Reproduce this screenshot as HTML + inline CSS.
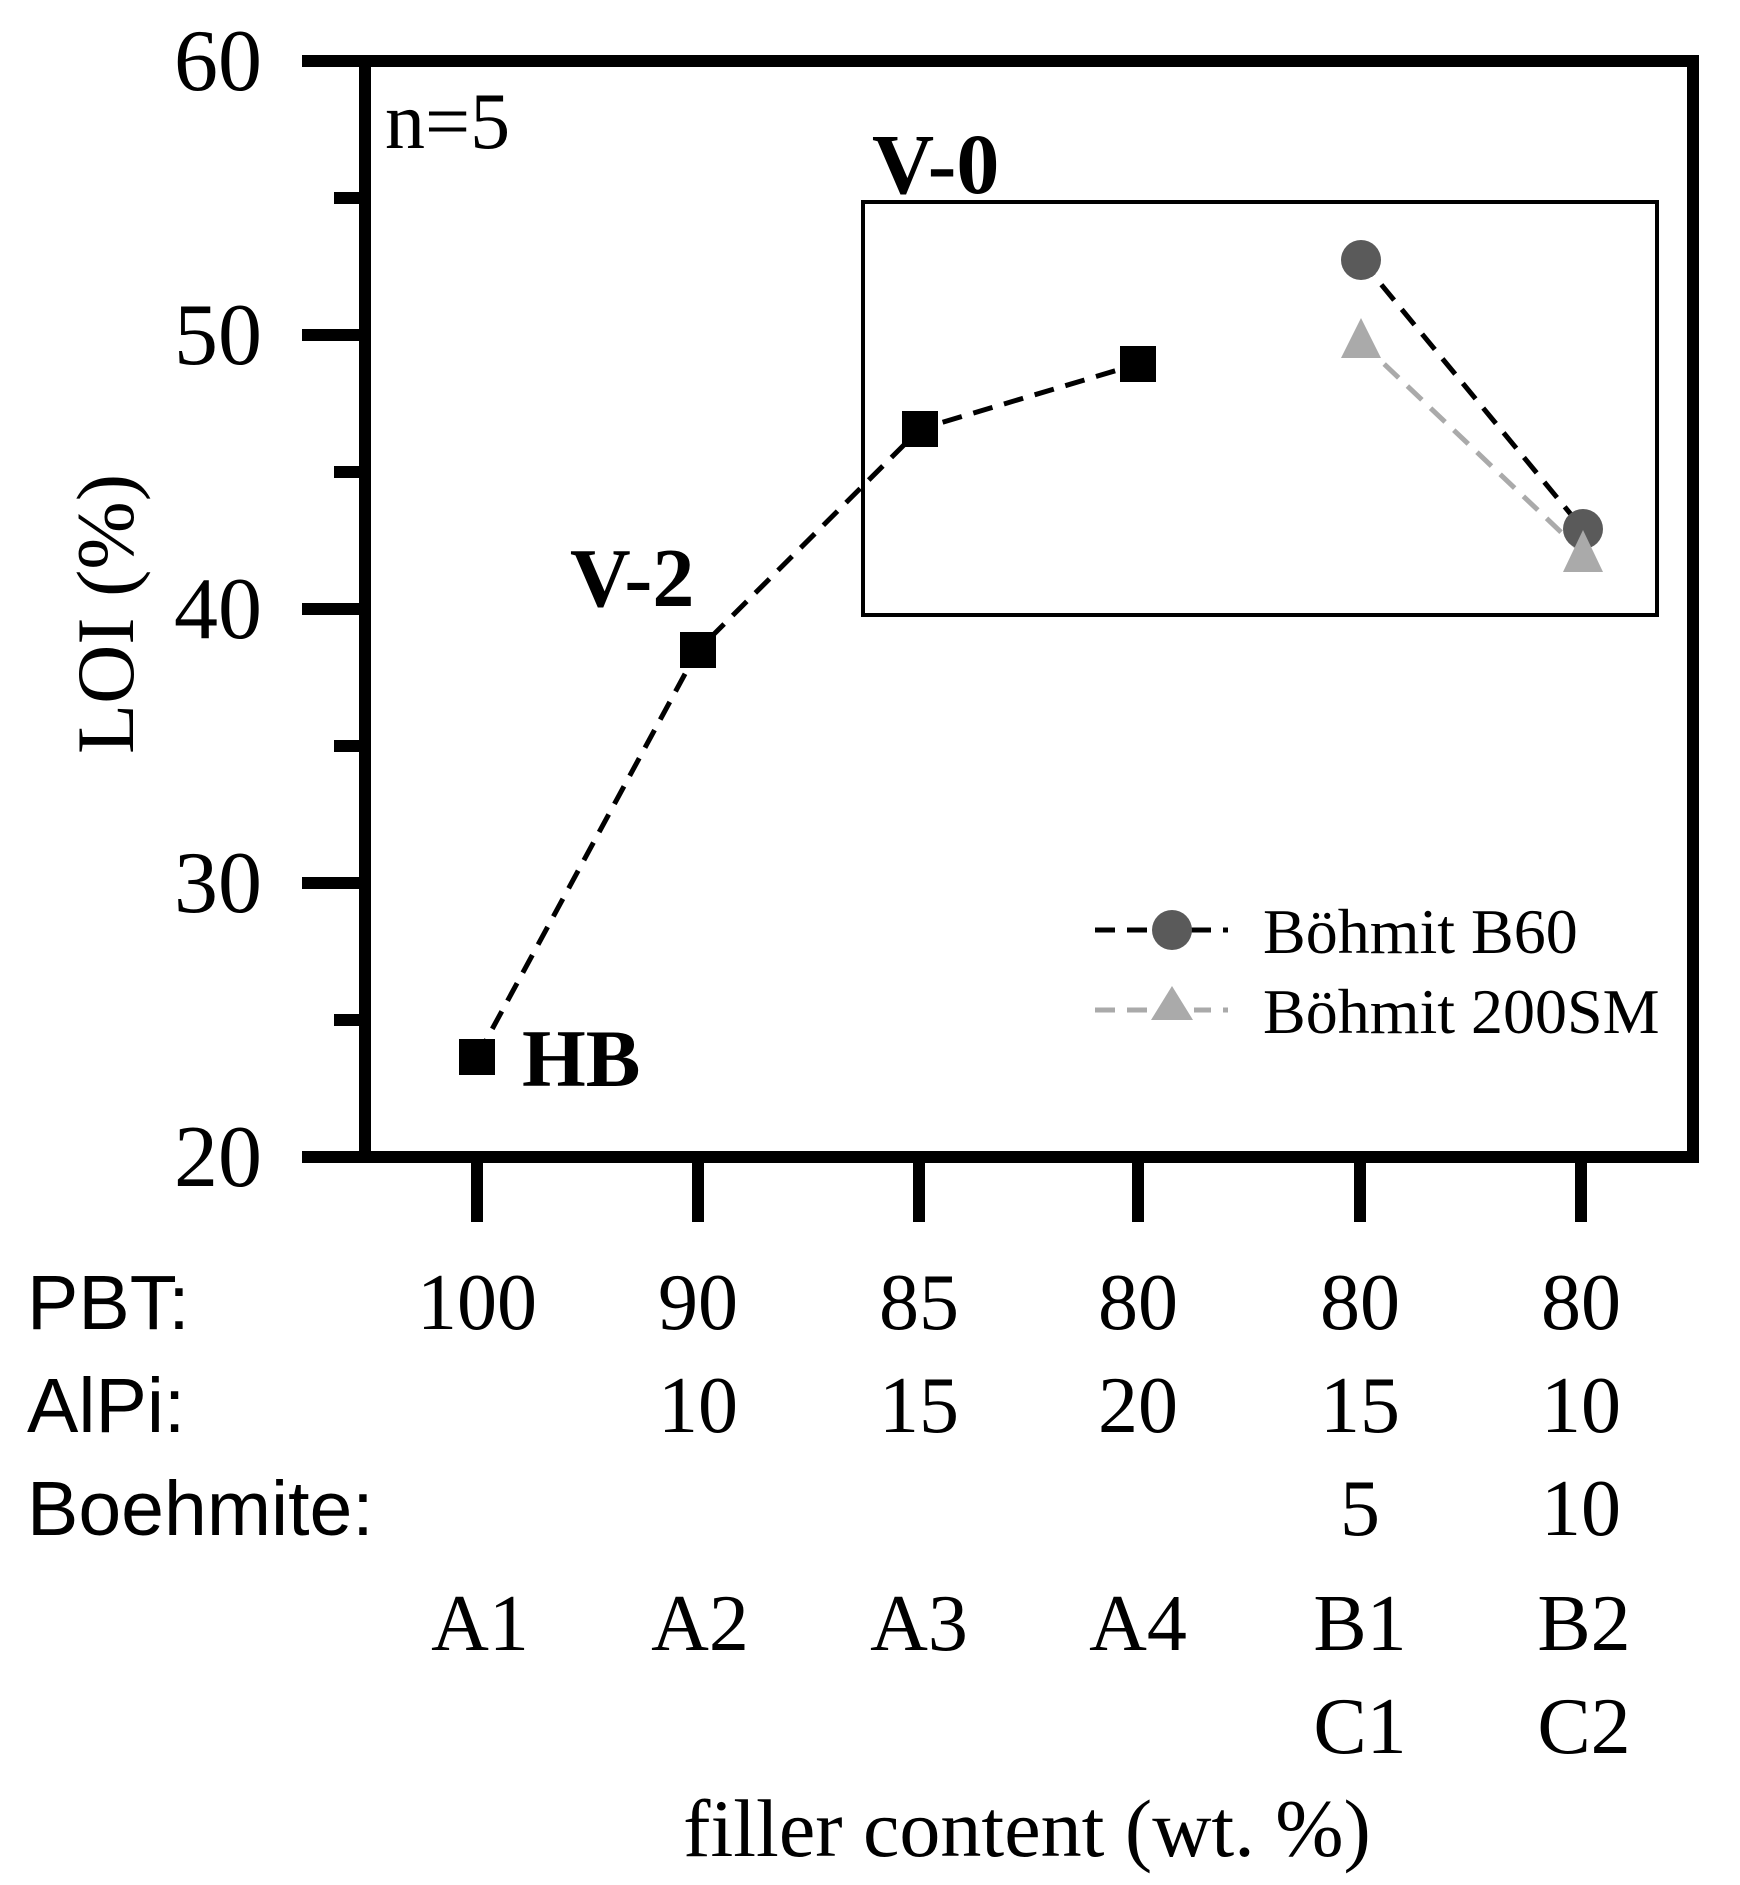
<!DOCTYPE html>
<html><head><meta charset="utf-8"><style>
html,body{margin:0;padding:0;background:#fff;}
svg{display:block;}
text{font-family:"Liberation Serif",serif;fill:#000;}
.s{font-family:"Liberation Sans",sans-serif;}
</style></head><body>
<svg width="1740" height="1885" viewBox="0 0 1740 1885" xmlns="http://www.w3.org/2000/svg">
<rect x="365" y="61" width="1328" height="1096" fill="none" stroke="#000" stroke-width="12"/>
<g stroke="#000" stroke-width="12">
<line x1="302" y1="61" x2="365" y2="61"/>
<line x1="302" y1="335" x2="365" y2="335"/>
<line x1="302" y1="609" x2="365" y2="609"/>
<line x1="302" y1="883" x2="365" y2="883"/>
<line x1="302" y1="1157" x2="365" y2="1157"/>
<line x1="334" y1="198" x2="365" y2="198"/>
<line x1="334" y1="472" x2="365" y2="472"/>
<line x1="334" y1="746" x2="365" y2="746"/>
<line x1="334" y1="1020" x2="365" y2="1020"/>
<line x1="477" y1="1157" x2="477" y2="1222"/>
<line x1="698" y1="1157" x2="698" y2="1222"/>
<line x1="919" y1="1157" x2="919" y2="1222"/>
<line x1="1138" y1="1157" x2="1138" y2="1222"/>
<line x1="1360" y1="1157" x2="1360" y2="1222"/>
<line x1="1581" y1="1157" x2="1581" y2="1222"/>
</g>
<g font-size="88" text-anchor="end">
<text x="262" y="90">60</text>
<text x="262" y="364">50</text>
<text x="262" y="638">40</text>
<text x="262" y="912">30</text>
<text x="262" y="1186">20</text>
</g>
<text x="135" y="614" font-size="82" text-anchor="middle" transform="rotate(-90 135 614)" dy="-2">LOI (%)</text>
<text x="385" y="148" font-size="80">n=5</text>
<rect x="863" y="202" width="794" height="413" fill="none" stroke="#000" stroke-width="4"/>
<text x="872" y="193" font-size="86" font-weight="bold">V-0</text>
<text x="570" y="606" font-size="84" font-weight="bold">V-2</text>
<text x="522" y="1086" font-size="82" font-weight="bold">HB</text>
<polyline points="477,1057 698,650 920,429 1138,364" fill="none" stroke="#000" stroke-width="5" stroke-dasharray="20,12"/>
<line x1="1361" y1="260" x2="1583" y2="529" stroke="#000" stroke-width="5" stroke-dasharray="20,12"/>
<line x1="1361" y1="342" x2="1583" y2="553" stroke="#aaa" stroke-width="5" stroke-dasharray="20,12"/>
<g fill="#000">
<rect x="459" y="1039" width="36" height="36"/>
<rect x="680" y="632" width="36" height="36"/>
<rect x="902" y="411" width="36" height="36"/>
<rect x="1120" y="346" width="36" height="36"/>
</g>
<circle cx="1361" cy="260" r="20" fill="#5a5a5a"/>
<circle cx="1583" cy="529" r="20" fill="#5a5a5a"/>
<polygon points="1361,318 1381,358 1341,358" fill="#aaa"/>
<polygon points="1583,530 1603,572 1563,572" fill="#aaa"/>
<line x1="1095" y1="930" x2="1228" y2="930" stroke="#000" stroke-width="5" stroke-dasharray="20,12"/>
<circle cx="1172" cy="930" r="20" fill="#5a5a5a"/>
<line x1="1095" y1="1010" x2="1228" y2="1010" stroke="#aaa" stroke-width="5" stroke-dasharray="20,12"/>
<rect x="1150" y="998" width="44" height="24" fill="#fff"/>
<polygon points="1172,986 1193,1020 1151,1020" fill="#aaa"/>
<g font-size="64">
<text x="1263" y="953">Böhmit B60</text>
<text x="1263" y="1033">Böhmit 200SM</text>
</g>
<g font-size="77" class="s">
<text class="s" x="27" y="1329">PBT:</text>
<text class="s" x="27" y="1432">AlPi:</text>
<text class="s" x="27" y="1535">Boehmite:</text>
</g>
<g font-size="80" text-anchor="middle">
<text x="477" y="1329">100</text><text x="698" y="1329">90</text><text x="919" y="1329">85</text><text x="1138" y="1329">80</text><text x="1360" y="1329">80</text><text x="1581" y="1329">80</text>
<text x="698" y="1432">10</text><text x="919" y="1432">15</text><text x="1138" y="1432">20</text><text x="1360" y="1432">15</text><text x="1581" y="1432">10</text>
<text x="1360" y="1535">5</text><text x="1581" y="1535">10</text>
<text x="480" y="1650">A1</text><text x="700" y="1650">A2</text><text x="919" y="1650">A3</text><text x="1138" y="1650">A4</text><text x="1360" y="1650">B1</text><text x="1584" y="1650">B2</text>
<text x="1360" y="1753">C1</text><text x="1584" y="1753">C2</text>
<text x="1027" y="1856" font-size="82">filler content (wt. %)</text>
</g>
</svg>
</body></html>
